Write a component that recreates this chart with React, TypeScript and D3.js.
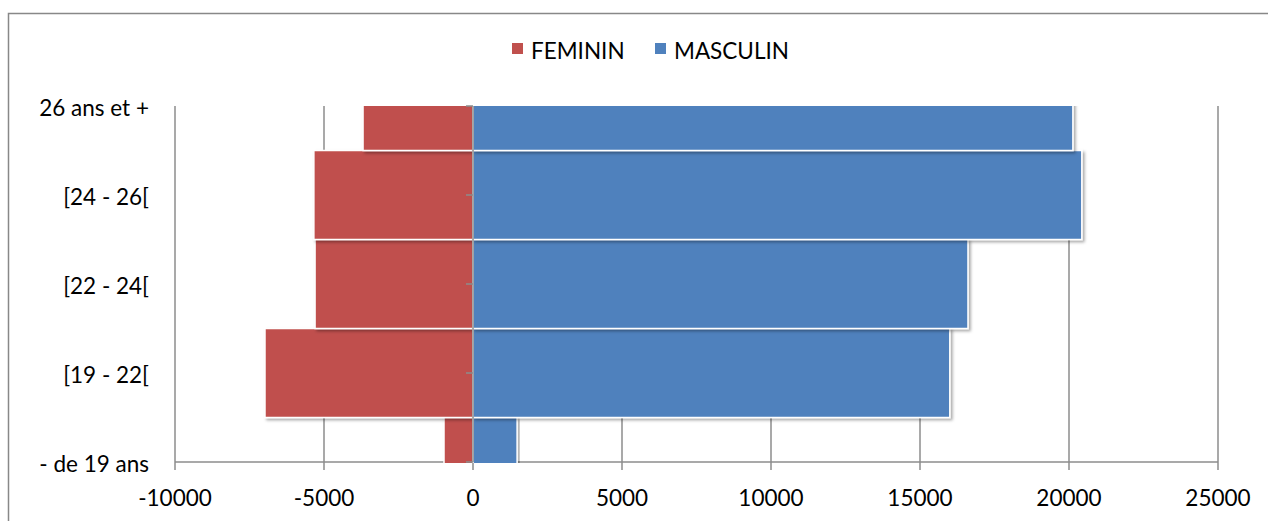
import React, { useEffect, useRef } from 'react';
import * as d3 from 'd3';

// categories from bottom to top
const categories = ['- de 19 ans', '[19 - 22[', '[22 - 24[', '[24 - 26[', '26 ans et +'];
const feminin = [-973, -6980, -5300, -5340, -3690];
const masculin = [1480, 16000, 16610, 20430, 20130];
const xTicks = [-10000, -5000, 0, 5000, 10000, 15000, 20000, 25000];

const W = 1268;
const H = 521;
const FONT = 'Lato, "Open Sans", sans-serif';
const FS = 22.5;

export default function App() {
  const ref = useRef<SVGSVGElement>(null);

  useEffect(() => {
    const svg = d3.select(ref.current);
    svg.selectAll('*').remove();

    const left = 175, right = 1218, top = 106, bottom = 462;
    const x = d3.scaleLinear().domain([-10000, 25000]).range([left, right]);
    const y = d3.scaleLinear().domain([0, categories.length - 1]).range([bottom, top]);
    const step = y(0) - y(1);

    const defs = svg.append('defs');
    defs.append('clipPath').attr('id', 'plot')
      .append('rect').attr('x', left).attr('y', top).attr('width', right - left).attr('height', bottom - top + 1);
    const f = defs.append('filter').attr('id', 'shadow').attr('x', '-5%').attr('y', '-10%').attr('width', '110%').attr('height', '130%');
    f.append('feDropShadow').attr('dx', 2).attr('dy', 2).attr('stdDeviation', 1.5).attr('flood-color', '#000').attr('flood-opacity', 0.35);

    // outer border
    svg.append('rect').attr('x', 8.5).attr('y', 13.5).attr('width', W).attr('height', H)
      .attr('fill', 'white').attr('stroke', '#888').attr('stroke-width', 1.5);

    // gridlines
    svg.append('g').selectAll('line').data(xTicks).join('line')
      .attr('x1', d => x(d)).attr('x2', d => x(d)).attr('y1', top).attr('y2', bottom + 8)
      .attr('stroke', '#8c8c8c').attr('stroke-width', 1.5);

    // bottom axis line
    svg.append('line').attr('x1', left).attr('x2', right).attr('y1', bottom).attr('y2', bottom)
      .attr('stroke', '#8c8c8c').attr('stroke-width', 1.5);

    const bars = svg.append('g').attr('clip-path', 'url(#plot)');
    const series = [
      { vals: feminin, color: '#C0504D' },
      { vals: masculin, color: '#4F81BD' },
    ];
    series.forEach(s => {
      bars.append('g').selectAll('rect').data(s.vals).join('rect')
        .attr('x', d => Math.min(x(0), x(d)))
        .attr('width', d => Math.abs(x(d) - x(0)))
        .attr('y', (d, i) => y(i) - step / 2)
        .attr('height', step)
        .attr('fill', s.color)
        .attr('stroke', 'white').attr('stroke-width', 1.5)
        .attr('filter', 'url(#shadow)');
    });

    // vertical axis at zero
    svg.append('line').attr('x1', x(0)).attr('x2', x(0)).attr('y1', top).attr('y2', bottom)
      .attr('stroke', '#8c8c8c').attr('stroke-width', 1.5);
    svg.append('g').selectAll('line').data(categories).join('line')
      .attr('x1', x(0) - 7).attr('x2', x(0)).attr('y1', (d, i) => y(i)).attr('y2', (d, i) => y(i))
      .attr('stroke', '#8c8c8c').attr('stroke-width', 1.5);

    // category labels
    svg.append('g').selectAll('text').data(categories).join('text')
      .attr('x', 149).attr('y', (d, i) => y(i) + 1)
      .attr('text-anchor', 'end').attr('dominant-baseline', 'central')
      .attr('font-family', FONT).attr('font-size', FS).attr('fill', '#000')
      .text(d => d);

    // x tick labels
    svg.append('g').selectAll('text').data(xTicks).join('text')
      .attr('x', d => x(d)).attr('y', 497)
      .attr('text-anchor', 'middle').attr('dominant-baseline', 'central')
      .attr('font-family', FONT).attr('font-size', FS).attr('fill', '#000')
      .text(d => String(d));

    // legend
    const legend = [
      { name: 'FEMININ', color: '#C0504D', x: 512 },
      { name: 'MASCULIN', color: '#4F81BD', x: 655 },
    ];
    const lg = svg.append('g').selectAll('g').data(legend).join('g')
      .attr('transform', d => `translate(${d.x},0)`);
    lg.append('rect').attr('x', 0).attr('y', 43).attr('width', 11).attr('height', 11).attr('fill', d => d.color);
    lg.append('text').attr('x', 19).attr('y', 50).attr('dominant-baseline', 'central')
      .attr('font-family', FONT).attr('font-size', FS).attr('fill', '#000')
      .text(d => d.name);
  }, []);

  return <svg ref={ref} width={W} height={H} style={{ position: 'absolute', left: 0, top: 0, display: 'block' }}></svg>;
}
